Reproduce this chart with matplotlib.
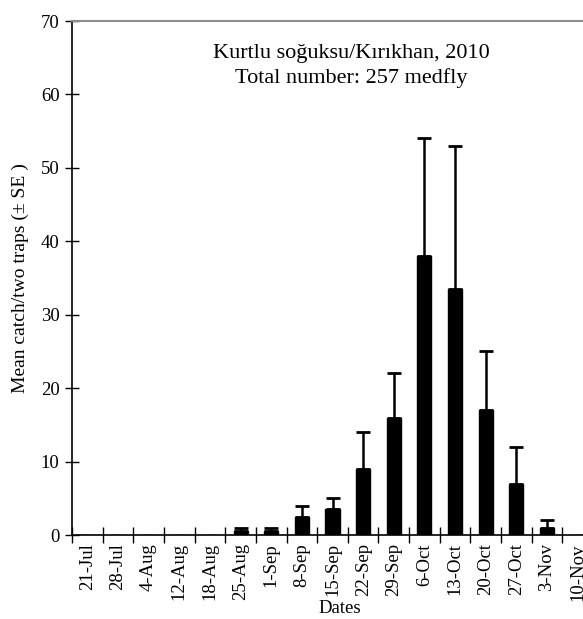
import matplotlib
matplotlib.use("Agg")
import matplotlib.pyplot as plt
import numpy as np

plt.rcParams['font.family'] = ['Liberation Serif', 'DejaVu Serif']

# weekly trap data, Kurtlu soğuksu 2010
dates = ['21-Jul', '28-Jul', '4-Aug', '12-Aug', '18-Aug', '25-Aug', '1-Sep',
         '8-Sep', '15-Sep', '22-Sep', '29-Sep', '6-Oct', '13-Oct', '20-Oct',
         '27-Oct', '3-Nov', '10-Nov']
mean_catch = [0, 0, 0, 0, 0, 0.5, 0.5, 2.5, 3.5, 9, 16, 38, 33.5, 17, 7, 1, 0]
se_upper = [0, 0, 0, 0, 0, 0.5, 0.5, 1.5, 1.5, 5, 6, 16, 19.5, 8, 5, 1, 0]

title_text = "Kurtlu soğuksu/Kırıkhan, 2010\nTotal number: 257 medfly"

fig = plt.figure(figsize=(5.83, 6.19), dpi=100)
ax = fig.add_axes([72 / 583, 84 / 619, 521 / 583, 514 / 619])

x = np.arange(len(dates))
ax.bar(x, mean_catch, width=0.46, color='black', edgecolor='black', linewidth=1, zorder=2)
mask = np.array(se_upper) > 0
ax.errorbar(x[mask], np.array(mean_catch)[mask],
            yerr=[np.zeros(mask.sum()), np.array(se_upper)[mask]],
            fmt='none', ecolor='black', elinewidth=1.8, capsize=5, capthick=2, zorder=3)

ax.set_xlim(-0.5, len(dates) - 0.5)
ax.set_ylim(0, 70)
ax.set_yticks(np.arange(0, 71, 10))

# ticks sit between the categories
ax.set_xticks(np.arange(-0.5, len(dates), 1.0))
ax.set_xticklabels([])
ax.set_xticks(x, minor=True)
ax.set_xticklabels(dates, minor=True, rotation=90, fontsize=13.5)
ax.tick_params(axis='x', which='minor', length=0, pad=6)
ax.tick_params(axis='x', which='major', direction='inout', length=12, width=1)
ax.tick_params(axis='y', direction='inout', length=10, width=1, labelsize=13.5, pad=4)

for side in ['left', 'bottom']:
    ax.spines[side].set_linewidth(1.2)
    ax.spines[side].set_color('black')
ax.spines['top'].set_color('#8c8c8c')
ax.spines['top'].set_linewidth(1.5)
ax.spines['right'].set_visible(False)

ax.set_xlabel("Dates", fontsize=13.5)
ax.xaxis.set_label_coords((340 - 72) / 521, -65 / 514)
ax.set_ylabel("Mean catch/two traps (± SE )", fontsize=14)
ax.yaxis.set_label_coords(-43 / 521, 0.5)

ax.text((351 - 72) / 521, 0.955, title_text, transform=ax.transAxes,
        ha='center', va='top', fontsize=16, linespacing=1.35)

fig.savefig("out.png", dpi=100)
